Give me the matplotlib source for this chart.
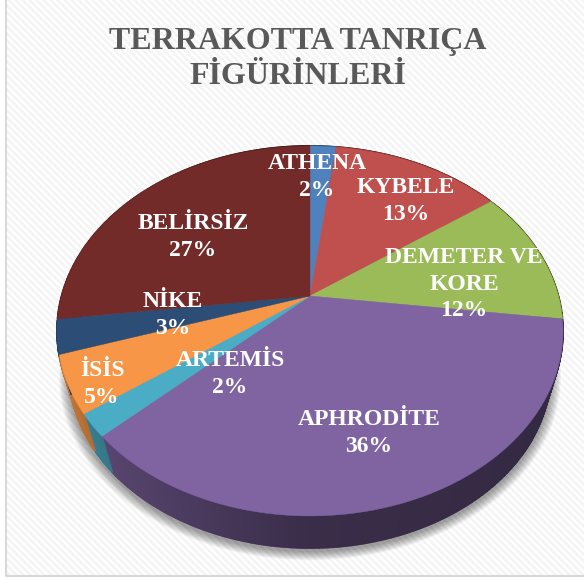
import numpy as np
import matplotlib
matplotlib.use("Agg")
import matplotlib.pyplot as plt
from matplotlib.colors import to_rgb

names = ['ATHENA', 'KYBELE', 'DEMETER VE\nKORE', 'APHRODİTE', 'ARTEMİS', 'İSİS', 'NİKE', 'BELİRSİZ']
values = [2, 13, 12, 36, 2, 5, 3, 27]
colors = ['#4f81bd', '#c0504d', '#9bbb59', '#8064a2', '#4bacc6', '#f79646', '#2c4d75', '#722b29']
title = 'TERRAKOTTA TANRIÇA\nFİGÜRİNLERİ'

# label centres in pixels
label_x = [317, 406, 464, 369, 230, 102, 173, 193]
label_y = [177, 201, 284, 433, 374, 384, 315, 237]

# perspective of the pie top
cx, cy = 310, 296
A, B, k = 248.5, 178.4, 0.189
# bottom rim of the pie
rim_scale, rim_drop = 0.95, 43


def project(theta):
    # theta in degrees, clockwise from 12 o'clock
    u = np.sin(np.radians(theta))
    v = np.cos(np.radians(theta))
    w = 1 + k * v
    return A * u / w, -B * v / w


def wall_shade(theta):
    u = np.sin(np.radians(theta))
    return np.interp(u, [-1, -0.7, 0, 1], [0.8, 0.68, 0.45, 0.4])


fig = plt.figure(figsize=(5.84, 5.80), dpi=100)
ax = fig.add_axes([0, 0, 1, 1])
ax.set_xlim(0, 584)
ax.set_ylim(580, 0)
ax.axis('off')

# striped chart background
xx, yy = np.meshgrid(np.arange(584), np.arange(580))
stripes = np.where((xx - yy) % 7 < 3.5, 0.96, 1.0)
ax.imshow(stripes, cmap='gray', vmin=0, vmax=1, extent=(0, 584, 580, 0), aspect='auto', interpolation='bilinear')
ax.set_xlim(0, 584)
ax.set_ylim(580, 0)
ax.fill([0, 6, 6, 0], [0, 0, 580, 580], color='white', lw=0)
ax.fill([0, 584, 584, 0], [576, 576, 580, 580], color='white', lw=0)
ax.plot([6, 6, 584], [0, 576, 576], color='#d9d9d9', lw=1.5)

# soft shadow under the pie
angles = np.linspace(0, 360, 361)
px, py = project(angles)
for i in range(12):
    s = rim_scale + 0.0035 * (12 - i)
    ax.fill(cx + px * s, cy + py * s + rim_drop + 3, color='black', alpha=0.035, lw=0)

# side wall, then the top face over it
edges = np.cumsum([0] + values) * 3.6
for i in range(len(values)):
    steps = np.arange(edges[i], edges[i + 1] + 0.01, 0.5)
    base = np.array(to_rgb(colors[i]))
    for a, b in zip(steps[:-1], steps[1:]):
        xa, ya = project(np.array([a, b]))
        wx = [cx + xa[0], cx + xa[1], cx + xa[1] * rim_scale, cx + xa[0] * rim_scale]
        wy = [cy + ya[0], cy + ya[1], cy + ya[1] * rim_scale + rim_drop, cy + ya[0] * rim_scale + rim_drop]
        shade = base * wall_shade((a + b) / 2)
        ax.fill(wx, wy, color=shade, ec=shade, lw=1.2)

for i in range(len(values)):
    steps = np.linspace(edges[i], edges[i + 1], 80)
    sx, sy = project(steps)
    ax.fill(np.r_[cx, cx + sx], np.r_[cy, cy + sy], color=colors[i], ec=colors[i], lw=0.3)

ax.text(298, 59, title, ha='center', va='center', fontsize=23, fontweight='bold',
        family='Liberation Serif', color='#595959', linespacing=1.27)

for i in range(len(values)):
    ax.text(label_x[i], label_y[i], names[i] + '\n' + str(values[i]) + '%', ha='center', va='center',
            fontsize=17, fontweight='bold', family='Liberation Serif', color='white', linespacing=1.36)

fig.savefig('out.png', dpi=100)
